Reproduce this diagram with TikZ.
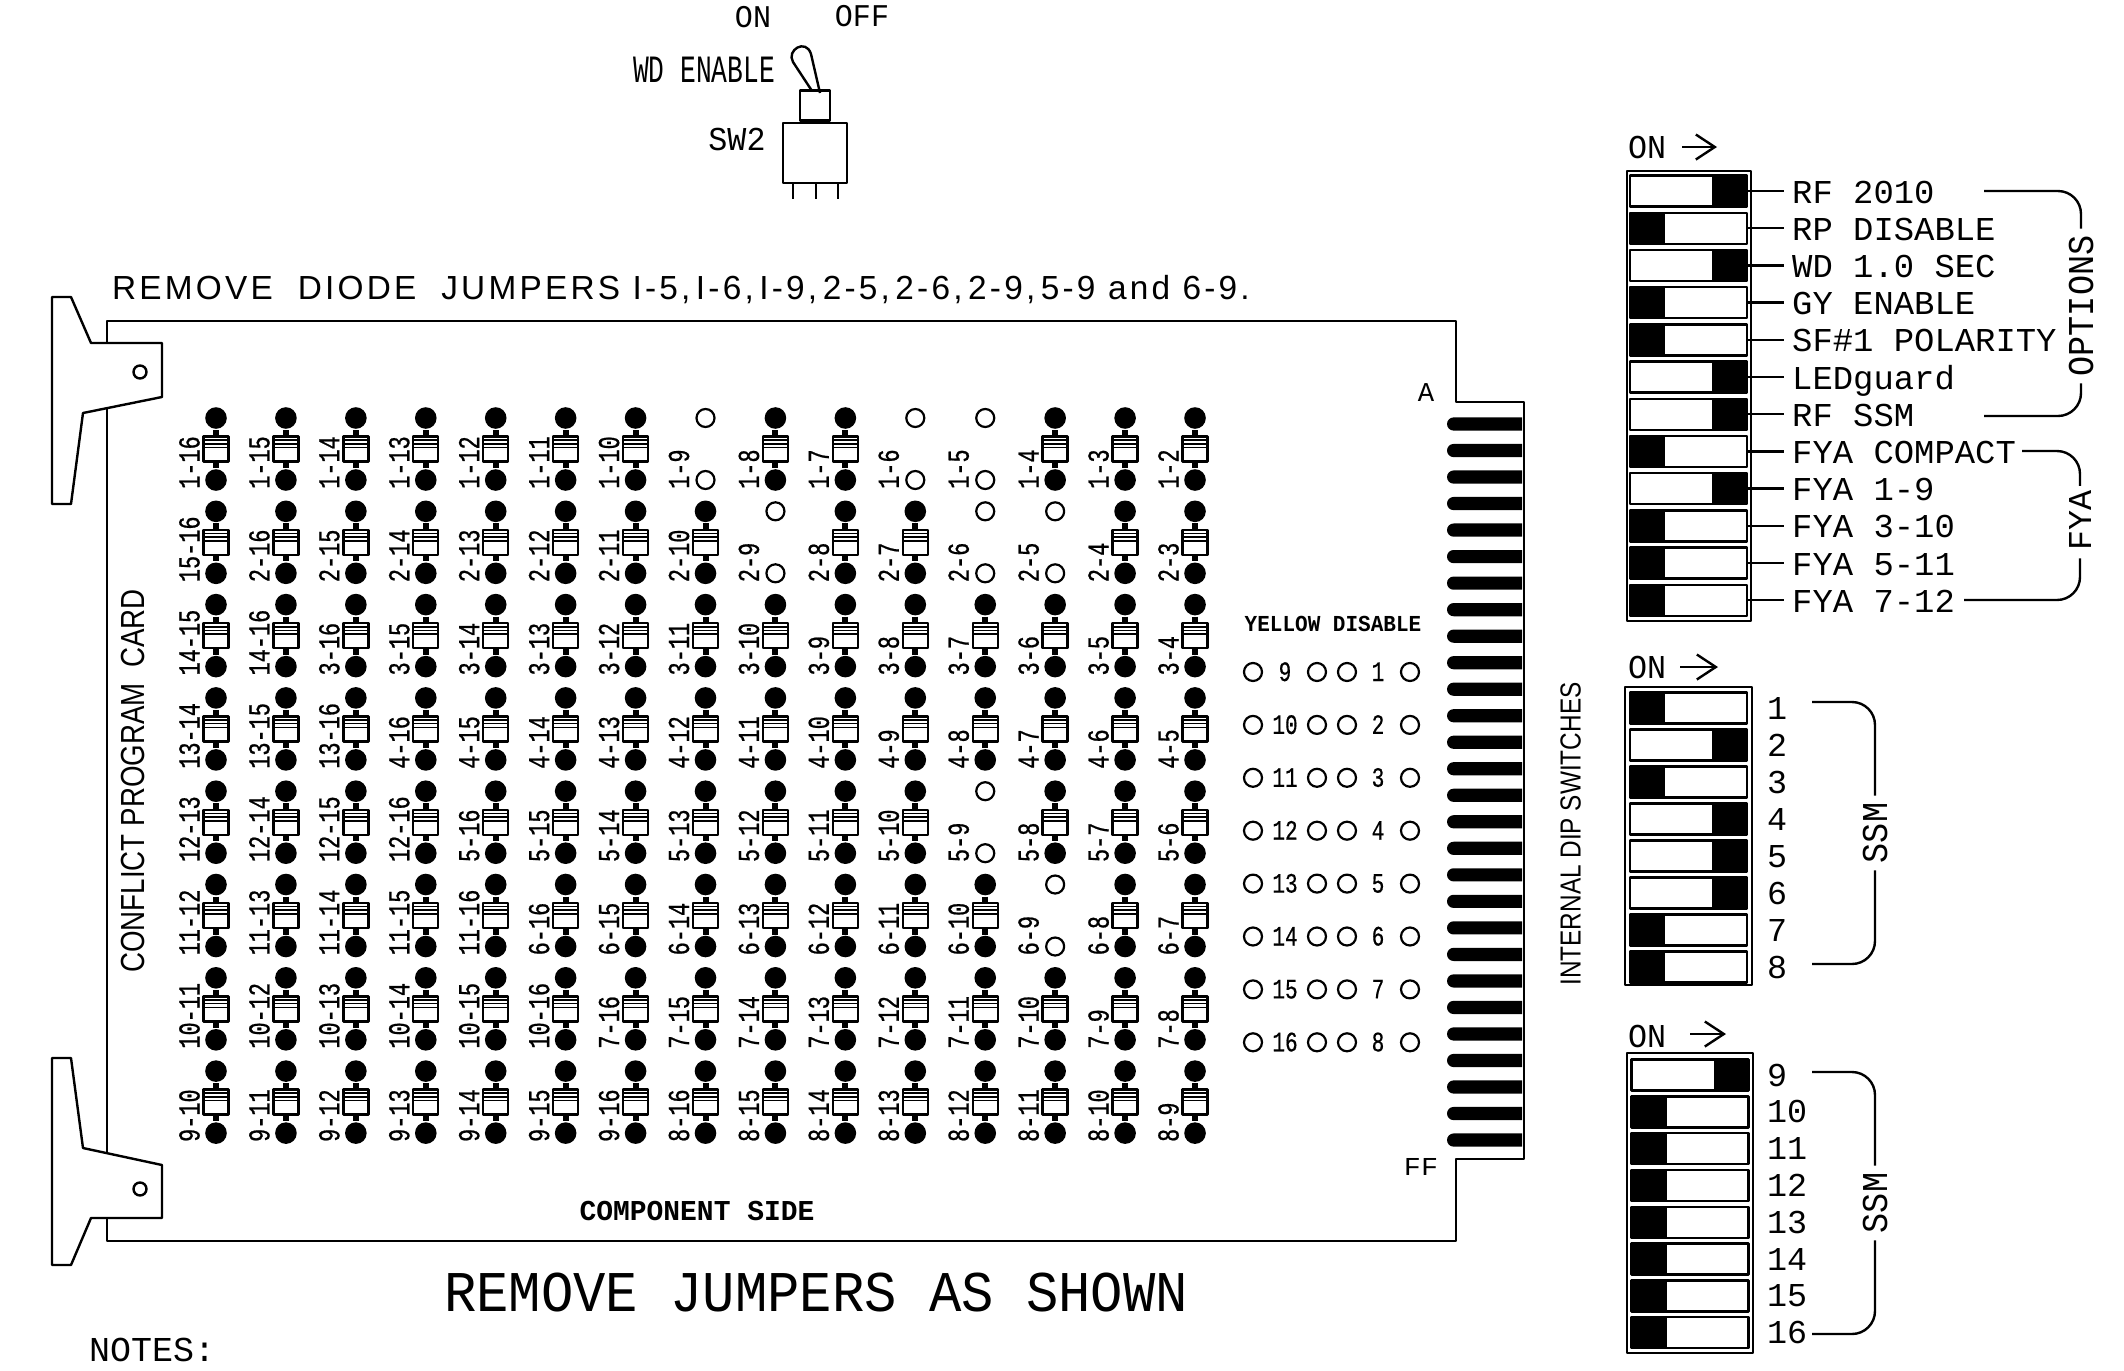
\documentclass[tikz,border=0pt]{standalone}
\usepackage{fontspec}
\usetikzlibrary{positioning,arrows.meta}
\newfontfamily\cadmono{Liberation Mono}
\newfontfamily\cadsans{Liberation Sans}
\newcommand{\monotext}[2]{\cadmono\fontsize{#1}{#1}\selectfont\addfontfeature{FakeStretch=#2}}
\newcommand{\sanstext}[2]{\cadsans\fontsize{#1}{#1}\selectfont\addfontfeature{FakeStretch=#2}}
\def\px{.02cm}
% jumpers that are taken off the card
\foreach \lab in {1-9,1-6,1-5,2-9,2-6,2-5,5-9,6-9}{\expandafter\gdef\csname removed\lab\endcsname{}}
\tikzset{
  capheight/.style={text height=#1*\px,text depth=0pt,inner sep=0pt},
  fullpad/.style={circle,fill=black,inner sep=0pt,minimum size=21.6*\px},
  openpad/.style={circle,draw,fill=white,inner sep=0pt,line width=2.2*\px,minimum size=18*\px},
  stem/.style={line width=6*\px},
  diode/.style={draw,fill=white,inner sep=0pt,line width=2.4*\px,minimum size=25*\px,
    path picture={\foreach \s in {3.6,7.2,11}
      \draw[line width=1.6*\px] ([yshift=-\s*\px]path picture bounding box.north west) -- ([yshift=-\s*\px]path picture bounding box.north east);}},
  linklabel/.style={capheight=20,rotate=90,anchor=west,font=\monotext{17.3}{.72}\addfontfeature{FakeBold=.7}},
  optlabel/.style={capheight=22,anchor=west,font=\monotext{19}{1.015}},
  numlabel/.style={capheight=22,anchor=west,font=\monotext{19}{1}},
  yellowlabel/.style={capheight=18,font=\monotext{16}{.75}\addfontfeature{FakeBold=.5}},
  onlabel/.style={capheight=22,anchor=west,font=\monotext{19}{.95}},
  bracelabel/.style={capheight=24,rotate=90,inner xsep=6*\px,font=\monotext{20.7}{.92}},
  brace/.style={rounded corners=.46cm},
  dipleft/.style={draw,fill=white,inner sep=0pt,minimum width=117*\px,minimum height=31*\px,
    path picture={\fill[black] (path picture bounding box.north west) rectangle ++(35,32);}},
  dipright/.style={draw,fill=white,inner sep=0pt,minimum width=117*\px,minimum height=31*\px,
    path picture={\fill[black] (path picture bounding box.north east) rectangle ++(-35,32);}},
  onarrow/.style={-{Straight Barb[length=.38cm,width=.5cm]}},
}
\begin{document}
\begin{tikzpicture}[x=\px,y=-\px,line width=2.4*\px,line join=round]
  \useasboundingbox (0,0) rectangle (2124,1370);

  % toggle switch
  \node[draw,fill=white,inner sep=0pt,minimum width=64*\px,minimum height=60*\px] (swbody) at (815,153) {};
  \node[draw,inner sep=0pt,minimum width=30*\px,minimum height=30*\px,above=0pt of swbody] (swneck) {};
  \draw (swneck.north) ++(-4,0) -- (793,62) .. controls (786,50) and (806,38) .. (811,54) -- (820,93);
  \foreach \x in {793,816,838}
    \draw (\x,183) -- (\x,199);
  \node[capheight=21,font=\monotext{18}{.95}] (swon) at (753,17) {ON};
  \node[capheight=21,font=\monotext{18}{.95}] (swoff) at (862,16) {OFF};
  \node[capheight=26,font=\monotext{22}{.68}] (swname) at (704,69) {WD ENABLE};
  \node[capheight=22,font=\monotext{19}{.95}] (swref) at (737,139) {SW2};

  \node[capheight=24,anchor=west,font=\sanstext{19}{1}\addfontfeature{LetterSpace=9.6}] (note) at (111,287)
    {REMOVE~~DIODE~~JUMPERS I-5,\,I-6,\,I-9,\,2-5,\,2-6,\,2-9,\,5-9 and 6-9.};

  % card outline and handles
  \draw (107,1241) -- (107,321) -- (1456,321) -- (1456,402) -- (1524,402)
    -- (1524,1159) -- (1456,1159) -- (1456,1241) -- cycle;
  \draw[fill=white] (52,297) -- (71,297) -- (91,343) -- (162,343) -- (162,397) -- (83,413)
    -- (71,504) -- (52,504) -- cycle;
  \draw[fill=white] (52,1058) -- (71,1058) -- (83,1148) -- (162,1165) -- (162,1218) -- (91,1218)
    -- (71,1265) -- (52,1265) -- cycle;
  \node[circle,draw,inner sep=0pt,minimum size=13*\px] (holetop) at (140,372) {};
  \node[circle,draw,inner sep=0pt,minimum size=13*\px] (holebot) at (140,1189) {};

  % edge fingers
  \foreach \i in {0,...,27}
    \fill ({1522},{424+26.52*\i-6.6}) -- ({1453.6},{424+26.52*\i-6.6}) arc (270:90:6.6)
      -- ({1522},{424+26.52*\i+6.6}) -- cycle;
  \node[capheight=18,font=\monotext{15.5}{1}] (edgea) at (1426,392) {A};
  \node[capheight=17,font=\monotext{14.7}{1.1}] (edgeff) at (1421,1167) {FF};

  % diode matrix
  \foreach \r/\labs in {
    0/{1-16,1-15,1-14,1-13,1-12,1-11,1-10,1-9,1-8,1-7,1-6,1-5,1-4,1-3,1-2},
    1/{15-16,2-16,2-15,2-14,2-13,2-12,2-11,2-10,2-9,2-8,2-7,2-6,2-5,2-4,2-3},
    2/{14-15,14-16,3-16,3-15,3-14,3-13,3-12,3-11,3-10,3-9,3-8,3-7,3-6,3-5,3-4},
    3/{13-14,13-15,13-16,4-16,4-15,4-14,4-13,4-12,4-11,4-10,4-9,4-8,4-7,4-6,4-5},
    4/{12-13,12-14,12-15,12-16,5-16,5-15,5-14,5-13,5-12,5-11,5-10,5-9,5-8,5-7,5-6},
    5/{11-12,11-13,11-14,11-15,11-16,6-16,6-15,6-14,6-13,6-12,6-11,6-10,6-9,6-8,6-7},
    6/{10-11,10-12,10-13,10-14,10-15,10-16,7-16,7-15,7-14,7-13,7-12,7-11,7-10,7-9,7-8},
    7/{9-10,9-11,9-12,9-13,9-14,9-15,9-16,8-16,8-15,8-14,8-13,8-12,8-11,8-10,8-9}}{
    \foreach \lab [count=\c from 0] in \labs {
      \ifcsname removed\lab\endcsname
        \node[openpad] (top\r\c) at ({216+69.93*\c},{418+93.3*\r}) {};
        \node[openpad] (bot\r\c) at ({216+69.93*\c},{480+93.3*\r}) {};
      \else
        \node[fullpad] (top\r\c) at ({216+69.93*\c},{418+93.3*\r}) {};
        \node[fullpad] (bot\r\c) at ({216+69.93*\c},{480+93.3*\r}) {};
        \draw[stem] (top\r\c) -- (bot\r\c);
        \node[diode] (dio\r\c) at ({216+69.93*\c},{449+93.3*\r}) {};
      \fi
      \node[linklabel] (lab\r\c) at ({189.5+69.93*\c},{490+93.3*\r}) {\lab};
    }
  }

  % yellow disable pads
  \node[capheight=15,font=\monotext{13}{.92}\bfseries] (yellow) at (1333,624) {YELLOW~DISABLE};
  \foreach \i/\a/\b in {0/9/1,1/10/2,2/11/3,3/12/4,4/13/5,5/14/6,6/15/7,7/16/8}{
    \node[openpad] (ya\i) at (1253,{672+52.9*\i}) {};
    \node[openpad] (yb\i) at (1317,{672+52.9*\i}) {};
    \node[openpad] (yc\i) at (1347,{672+52.9*\i}) {};
    \node[openpad] (yd\i) at (1410,{672+52.9*\i}) {};
    \node[yellowlabel] (yl\i) at (1285,{672+52.9*\i}) {\a};
    \node[yellowlabel] (yr\i) at (1378,{672+52.9*\i}) {\b};
  }

  % text on the card
  \node[capheight=24,rotate=90,font=\sanstext{19}{.83}] (cardname) at (132,781) {CONFLICT PROGRAM~~CARD};
  \node[capheight=19,font=\monotext{16.4}{.97}\bfseries] (side) at (697,1211) {COMPONENT~SIDE};
  \node[capheight=21,rotate=90,font=\sanstext{16.5}{.84}] (internal) at (1570,834) {INTERNAL DIP SWITCHES};
  \node[capheight=38,font=\monotext{32.8}{.935}] (remove) at (816,1292) {REMOVE JUMPERS AS SHOWN};
  \node[capheight=23,anchor=west,font=\monotext{19.9}{1}] (notes) at (88,1350) {NOTES:};

  % option switches
  \node[onlabel] (on1) at (1627,147) {ON};
  \coordinate (on1tip) at (1717,147);
  \draw[onarrow] (1682,147) -- (on1tip);
  \draw (1627,171) rectangle (1751,621);
  \foreach \txt/\side [count=\i from 0] in {RF 2010/right,RP DISABLE/left,WD 1.0 SEC/right,GY ENABLE/left,
      SF\#1 POLARITY/left,LEDguard/right,RF SSM/right,FYA COMPACT/left,FYA 1-9/right,
      FYA 3-10/left,FYA 5-11/left,FYA 7-12/left}{
    \node[dip\side] (opt\i) at (1688.5,{191+37.2*\i}) {};
    \node[optlabel] (optl\i) at (1791,{192+37.2*\i}) {\txt};
    \draw (opt\i.east) -- ++(36,0);
  }
  \node[bracelabel] (options) at (2081,306) {OPTIONS};
  \coordinate (optfrom) at (1984,191);
  \coordinate (optto) at (1984,416);
  \draw[brace] (optfrom) -| (options.east);
  \draw[brace] (optto) -| (options.west);
  \node[capheight=22,rotate=90,inner xsep=3*\px,font=\monotext{19}{1}] (fya) at (2080,520) {FYA};
  \coordinate (fyafrom) at (2022,451);
  \coordinate (fyato) at (1964,600);
  \draw[brace] (fyafrom) -| (fya.east);
  \draw[brace] (fyato) -| ([yshift=-4*\px]fya.west);

  % first SSM bank
  \node[onlabel] (on2) at (1627,667) {ON};
  \coordinate (on2tip) at (1718,667);
  \draw[onarrow] (1680,667) -- (on2tip);
  \draw (1625,687) rectangle (1752,985);
  \foreach \n/\side [count=\i from 0] in {1/left,2/right,3/left,4/right,5/right,6/right,7/left,8/left}{
    \node[dip\side] (ssma\i) at (1688.5,{708+37*\i}) {};
    \node[numlabel] (ssman\i) at (1766,{708+37*\i}) {\n};
  }
  \node[bracelabel] (ssma) at (1875,833) {SSM};
  \coordinate (ssmafrom) at (1812,702);
  \coordinate (ssmato) at (1812,964);
  \draw[brace] (ssmafrom) -| (ssma.east);
  \draw[brace] (ssmato) -| (ssma.west);

  % second SSM bank
  \node[onlabel] (on3) at (1627,1036) {ON};
  \coordinate (on3tip) at (1726,1034);
  \draw[onarrow] (1690,1034) -- (on3tip);
  \draw (1627,1053) rectangle (1753,1353);
  \foreach \n/\side [count=\i from 0] in {9/right,10/left,11/left,12/left,13/left,14/left,15/left,16/left}{
    \node[dip\side] (ssmb\i) at (1690,{1075+36.8*\i}) {};
    \node[numlabel] (ssmbn\i) at (1766,{1075+36.8*\i}) {\n};
  }
  \node[bracelabel] (ssmb) at (1875,1203) {SSM};
  \coordinate (ssmbfrom) at (1812,1072);
  \coordinate (ssmbto) at (1812,1334);
  \draw[brace] (ssmbfrom) -| (ssmb.east);
  \draw[brace] (ssmbto) -| (ssmb.west);
\end{tikzpicture}
\end{document}
